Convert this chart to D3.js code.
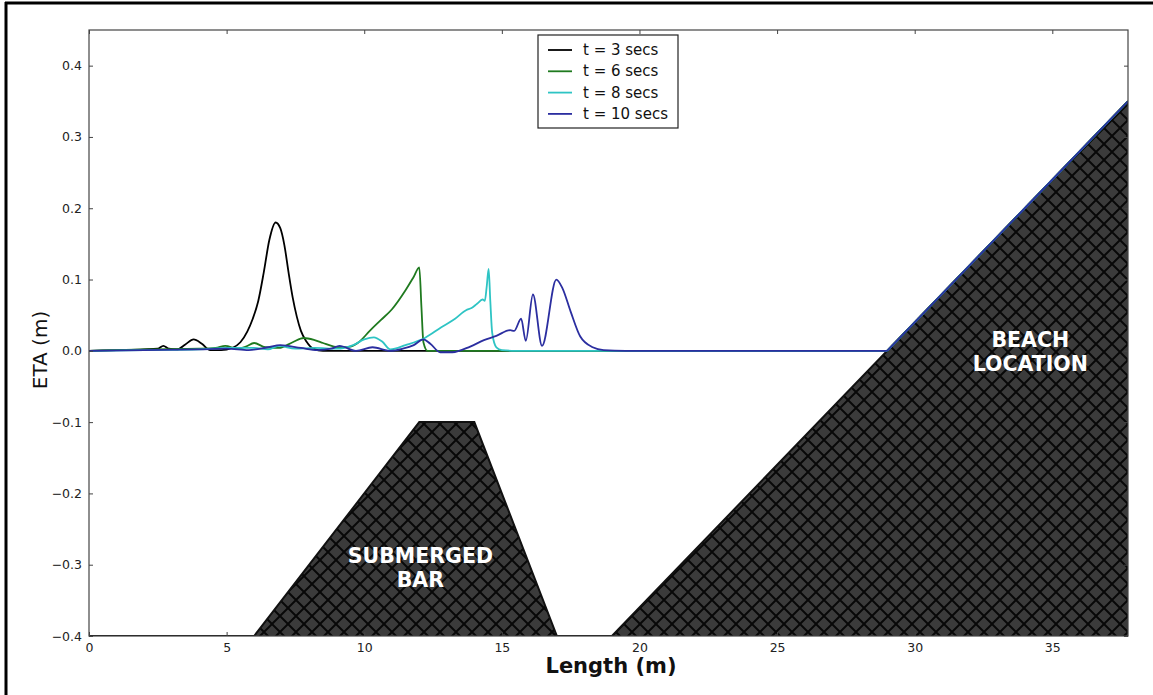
<!DOCTYPE html>
<html><head><meta charset="utf-8">
<script src="https://cdn.jsdelivr.net/npm/d3@7"></script>
<style>html,body{margin:0;padding:0;background:#fff;}svg{display:block;font-family:"DejaVu Sans",sans-serif;}</style>
</head><body>
<svg id="chart" width="1153" height="695"></svg>
<script>
// ---- data ----
const xTicks = [0, 5, 10, 15, 20, 25, 30, 35];
const yTicks = [-0.4, -0.3, -0.2, -0.1, 0.0, 0.1, 0.2, 0.3, 0.4];
const seriesNames = ["t = 3 secs", "t = 6 secs", "t = 8 secs", "t = 10 secs"];
const seriesColors = ["#000000", "#1f7a1f", "#2ec4c4", "#2b2ea0"];

const bedX = [0, 6, 12, 14, 17, 19, 37.75];
const bedZ = [-0.4, -0.4, -0.1, -0.1, -0.4, -0.4, 0.35];

const runupX = [29, 37.75];
const runupEta = [0, 0.35];

const t3X   = [0, 1, 2, 2.5, 2.7, 2.9, 3.2, 3.5, 3.8, 4.1, 4.4, 4.8, 5.2, 5.5, 5.75, 5.95, 6.15, 6.35, 6.55, 6.78, 6.95, 7.1, 7.25, 7.4, 7.55, 7.7, 7.9, 8.15, 8.5, 9, 12, 20];
const t3Eta = [0, 0.001, 0.002, 0.003, 0.007, 0.003, 0.002, 0.009, 0.016, 0.01, 0.001, 0.001, 0.004, 0.012, 0.027, 0.045, 0.07, 0.11, 0.155, 0.18, 0.172, 0.148, 0.11, 0.075, 0.048, 0.028, 0.013, 0.003, 0, 0, 0, 0];

const t6X   = [0, 2, 4, 4.6, 4.95, 5.4, 5.7, 6.0, 6.4, 6.9, 7.4, 7.8, 8.2, 8.5, 8.9, 9.2, 9.5, 9.8, 10.2, 10.6, 11.0, 11.5, 11.8, 12.0, 12.08, 12.15, 12.3, 13, 20];
const t6Eta = [0, 0.002, 0.003, 0.004, 0.007, 0.003, 0.006, 0.011, 0.005, 0.004, 0.012, 0.018, 0.015, 0.011, 0.006, 0.005, 0.006, 0.012, 0.028, 0.043, 0.058, 0.085, 0.104, 0.117, 0.06, 0.012, 0, 0, 0];

const t8X   = [0, 2, 4, 5, 6, 6.5, 6.9, 7.5, 8.2, 9, 9.6, 10.0, 10.35, 10.65, 10.95, 11.5, 12.2, 12.8, 13.3, 13.7, 13.9, 14.1, 14.3, 14.38, 14.45, 14.52, 14.58, 14.65, 14.8, 15.0, 15.5, 20];
const t8Eta = [0, 0.001, 0.002, 0.004, 0.004, 0.002, 0.007, 0.003, 0.004, 0.003, 0.008, 0.016, 0.019, 0.013, 0.002, 0.008, 0.018, 0.033, 0.045, 0.057, 0.06, 0.066, 0.072, 0.07, 0.09, 0.115, 0.07, 0.025, 0.005, 0.001, 0, 0];

const t10X   = [0, 2, 4, 5, 5.8, 6.5, 6.95, 7.7, 8.3, 8.8, 9.1, 9.7, 10.3, 10.95, 11.4, 11.8, 12.15, 12.4, 12.76, 13.2, 13.85, 14.35, 14.8, 15.3, 15.45, 15.7, 15.87, 16.13, 16.46, 16.98, 17.2, 17.5, 17.85, 18.3, 18.7, 19.5, 22];
const t10Eta = [0, 0.001, 0.002, 0.003, 0.001, 0.005, 0.008, 0.004, 0.001, 0.003, 0.007, 0.0, 0.005, 0.0, 0.003, 0.008, 0.016, 0.01, -0.002, -0.002, 0.006, 0.015, 0.021, 0.029, 0.028, 0.045, 0.014, 0.079, 0.007, 0.1, 0.088, 0.055, 0.02, 0.005, 0.001, 0, 0];

// ---- layout ----
const svg = d3.select("#chart");
const W = 1153, H = 695;
const m = {left: 89, right: 1128, top: 30, bottom: 636};
const x = d3.scaleLinear().domain([0, 37.75]).range([m.left, m.right]);
const y = d3.scaleLinear().domain([-0.4, 0.45]).range([m.bottom, m.top]);

// outer frame
svg.append("line").attr("x1", 6).attr("x2", 6).attr("y1", 2).attr("y2", H).attr("stroke", "#000").attr("stroke-width", 3);
svg.append("line").attr("x1", 5).attr("x2", W).attr("y1", 3).attr("y2", 3).attr("stroke", "#000").attr("stroke-width", 3);

// hatch pattern
const S = 16;
const defs = svg.append("defs");
const pat = defs.append("pattern").attr("id", "hatch").attr("patternUnits", "userSpaceOnUse")
  .attr("width", S).attr("height", S);
pat.append("rect").attr("width", S).attr("height", S).attr("fill", "#3b3b3b");
pat.append("path").attr("d", `M-3,-3L${S+3},${S+3}M-3,${S+3}L${S+3},-3`)
  .attr("stroke", "#080808").attr("stroke-width", 2);
defs.append("clipPath").attr("id", "plotclip").append("rect")
  .attr("x", m.left).attr("y", m.top).attr("width", m.right - m.left).attr("height", m.bottom - m.top);

const plot = svg.append("g").attr("clip-path", "url(#plotclip)");

// bathymetry
const bed = bedX.map((v, i) => [v, bedZ[i]]);
plot.append("path").datum(bed)
  .attr("d", d3.area().x(d => x(d[0])).y0(y(-0.4)).y1(d => y(d[1])))
  .attr("fill", "url(#hatch)");
plot.append("path").datum(bed)
  .attr("d", d3.line().x(d => x(d[0])).y(d => y(d[1])))
  .attr("fill", "none").attr("stroke", "#111").attr("stroke-width", 2);

// series
const allX = [t3X, t6X, t8X, t10X];
const allEta = [t3Eta, t6Eta, t8Eta, t10Eta];
const line = d3.line().x(d => x(d[0])).y(d => y(d[1])).curve(d3.curveMonotoneX);
const lineLin = d3.line().x(d => x(d[0])).y(d => y(d[1]));
const runup = runupX.map((v, i) => [v, runupEta[i]]);
allX.forEach((xs, k) => {
  const pts = xs.map((v, i) => [v, allEta[k][i]]).concat([runup[0]]);
  plot.append("path").datum(pts).attr("d", line)
    .attr("fill", "none").attr("stroke", seriesColors[k]).attr("stroke-width", 1.8)
    .attr("stroke-linejoin", "round");
  plot.append("path").datum(runup).attr("d", lineLin)
    .attr("fill", "none").attr("stroke", seriesColors[k]).attr("stroke-width", 1.8);
});

// annotations
const ann = [
  {lines: ["SUBMERGED", "BAR"], cx: 12.04, cy: -0.298},
  {lines: ["BEACH", "LOCATION"], cx: 34.2, cy: 0.006},
];
ann.forEach(a => {
  const t = svg.append("text").attr("text-anchor", "middle").attr("fill", "#fff")
    .attr("font-weight", "bold").attr("font-size", 20.5).attr("font-family", "'DejaVu Sans', sans-serif");
  a.lines.forEach((s, i) => t.append("tspan").attr("x", x(a.cx)).attr("y", y(a.cy) + i * 24).text(s));
});

// axes frame
svg.append("rect").attr("x", m.left).attr("y", m.top).attr("width", m.right - m.left).attr("height", m.bottom - m.top)
  .attr("fill", "none").attr("stroke", "#444").attr("stroke-width", 1.2);

const fmtY = d => d3.format(".1f")(d).replace("-", "\u2212");
const xb = svg.append("g").attr("transform", `translate(0,${m.bottom})`)
  .call(d3.axisBottom(x).tickValues(xTicks).tickSize(-4).tickPadding(7).tickFormat(d3.format("d")));
const xt = svg.append("g").attr("transform", `translate(0,${m.top})`)
  .call(d3.axisTop(x).tickValues(xTicks).tickSize(-4).tickFormat(""));
const yl = svg.append("g").attr("transform", `translate(${m.left},0)`)
  .call(d3.axisLeft(y).tickValues(yTicks).tickSize(-4).tickPadding(7).tickFormat(fmtY));
const yr = svg.append("g").attr("transform", `translate(${m.right},0)`)
  .call(d3.axisRight(y).tickValues(yTicks).tickSize(-4).tickFormat(""));
[xb, xt, yl, yr].forEach(g => {
  g.select(".domain").remove();
  g.selectAll(".tick line").attr("stroke", "#444");
  g.selectAll("text").attr("font-size", 12.5).attr("fill", "#222").attr("font-family", "'DejaVu Sans', sans-serif");
});

// axis labels
svg.append("text").attr("x", 611).attr("y", 673).attr("text-anchor", "middle")
  .attr("font-size", 21).attr("font-weight", "bold").attr("fill", "#111").text("Length (m)");
svg.append("text").attr("transform", "translate(47,350) rotate(-90)").attr("text-anchor", "middle")
  .attr("font-size", 20).attr("fill", "#111").text("ETA (m)");

// legend
const lg = svg.append("g").attr("transform", "translate(538,35)");
lg.append("rect").attr("width", 140).attr("height", 93).attr("fill", "#fff").attr("stroke", "#222").attr("stroke-width", 1.2);
seriesNames.forEach((nm, i) => {
  const yy = 15 + i * 21.3;
  lg.append("line").attr("x1", 10).attr("x2", 34).attr("y1", yy).attr("y2", yy)
    .attr("stroke", seriesColors[i]).attr("stroke-width", 1.8);
  lg.append("text").attr("x", 45).attr("y", yy + 5).attr("font-size", 15).attr("fill", "#111").text(nm);
});
</script>
</body></html>
